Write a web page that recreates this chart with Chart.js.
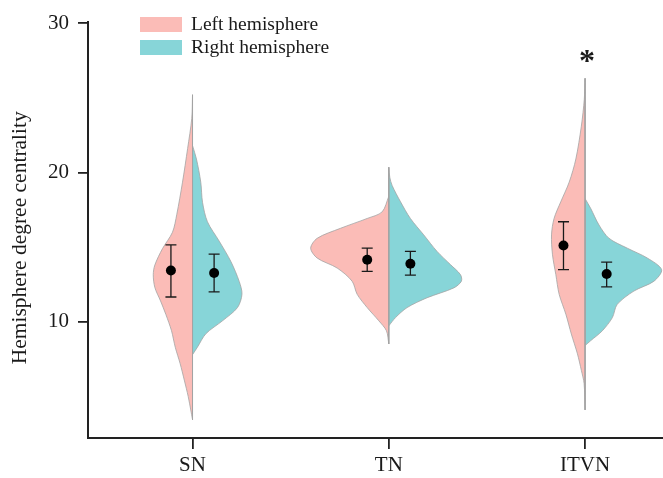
<html>
<head>
    <meta charset="UTF-8">
    <title>Hemisphere degree centrality</title>
    <style>
        html, body { margin: 0; padding: 0; background: #fff; }
    </style>
</head>
<body>
    <canvas id="violinChart" width="663" height="478"></canvas>
    <script src="https://cdn.jsdelivr.net/npm/chart.js"></script>
    <script>
        const categories = ['SN', 'TN', 'ITVN'];
        const seriesNames = ['Left hemisphere', 'Right hemisphere'];
        const yTicks = [10, 20, 30];
        const yTitle = 'Hemisphere degree centrality';

        // violin outlines: [value, half width in x-axis units]
        const snLeft = [[25.2, 0], [23.6, 0.004], [21.6, 0.025], [19.35, 0.051], [17.2, 0.08], [16.0, 0.102], [14.9, 0.153], [13.8, 0.192], [13.15, 0.2], [12.3, 0.192], [11.4, 0.163], [10.5, 0.136], [9.4, 0.107], [8.3, 0.088], [7.2, 0.063], [6.1, 0.042], [5.0, 0.022], [4.1, 0.009], [3.45, 0]];
        const snRight = [[21.8, 0], [20.9, 0.02], [19.35, 0.042], [18.0, 0.051], [16.7, 0.076], [15.4, 0.136], [14.05, 0.195], [12.7, 0.238], [11.85, 0.252], [10.95, 0.229], [10.07, 0.153], [9.2, 0.068], [8.3, 0.025], [7.8, 0]];
        const tnLeft = [[18.4, 0], [17.36, 0.034], [16.92, 0.11], [16.26, 0.246], [15.59, 0.365], [14.93, 0.398], [14.27, 0.365], [13.6, 0.263], [12.72, 0.187], [11.84, 0.161], [10.95, 0.11], [10.07, 0.051], [9.4, 0.012], [8.52, 0]];
        const tnRight = [[20.35, 0], [19.68, 0.005], [19.13, 0.017], [18.03, 0.06], [16.92, 0.11], [15.82, 0.178], [14.71, 0.246], [13.83, 0.314], [13.16, 0.365], [12.72, 0.37], [12.27, 0.331], [11.61, 0.195], [10.95, 0.093], [10.28, 0.034], [9.73, 0]];
        const itvnLeft = [[26.3, 0], [24.9, 0.004], [23.1, 0.019], [20.9, 0.047], [19.35, 0.081], [18.03, 0.124], [16.92, 0.158], [15.82, 0.171], [14.49, 0.166], [13.16, 0.149], [11.84, 0.132], [10.51, 0.098], [9.18, 0.07], [7.86, 0.039], [6.75, 0.019], [5.87, 0.005], [4.1, 0]];
        const itvnRight = [[18.25, 0], [17.58, 0.029], [16.48, 0.071], [15.59, 0.122], [14.93, 0.215], [14.27, 0.317], [13.49, 0.39], [12.72, 0.351], [12.06, 0.249], [11.17, 0.164], [10.28, 0.139], [9.4, 0.088], [8.74, 0.029], [8.41, 0]];

        // mean and error bar ends
        const leftMean = [13.43, 14.16, 15.11];
        const leftLow = [11.66, 13.38, 13.5];
        const leftHigh = [15.15, 14.93, 16.7];
        const rightMean = [13.27, 13.89, 13.2];
        const rightLow = [12.01, 13.12, 12.34];
        const rightHigh = [14.53, 14.71, 13.99];
        const significance = ['', '', '*'];

        const leftViolins = [snLeft, tnLeft, itvnLeft];
        const rightViolins = [snRight, tnRight, itvnRight];

        const LEFT_FILL = '#fbbcb7';
        const RIGHT_FILL = '#87d5d8';
        const OUTLINE = '#a3a3a3';
        const INK = '#1a1a1a';
        const dotOffset = 0.11;
        const capHalf = 0.028;

        function halfViolin(profile, center, side, color) {
            return {
                data: profile.map(p => ({ x: center + side * p[1], y: p[0] })),
                showLine: true,
                fill: 'shape',
                backgroundColor: color,
                borderColor: OUTLINE,
                borderWidth: 0.8,
                tension: 0.3,
                pointRadius: 0,
                order: 4
            };
        }

        function errorBars(low, high, side) {
            const pts = [];
            low.forEach((lo, i) => {
                const x = i + 1 + side * dotOffset;
                const hi = high[i];
                pts.push({ x: x - capHalf, y: hi }, { x: x + capHalf, y: hi }, { x: null, y: null });
                pts.push({ x: x, y: hi }, { x: x, y: lo }, { x: null, y: null });
                pts.push({ x: x - capHalf, y: lo }, { x: x + capHalf, y: lo }, { x: null, y: null });
            });
            return { data: pts, showLine: true, borderColor: INK, borderWidth: 1.3, pointRadius: 0, spanGaps: false, order: 2 };
        }

        function meanDots(means, side) {
            return {
                data: means.map((m, i) => ({ x: i + 1 + side * dotOffset, y: m })),
                pointRadius: 5,
                pointBackgroundColor: '#000',
                pointBorderWidth: 0,
                order: 1
            };
        }

        const datasets = [];
        categories.forEach((name, i) => {
            const c = i + 1;
            datasets.push(halfViolin(leftViolins[i], c, -1, LEFT_FILL));
            datasets.push(halfViolin(rightViolins[i], c, 1, RIGHT_FILL));
            const vals = leftViolins[i].concat(rightViolins[i]).map(p => p[0]);
            datasets.push({
                data: [{ x: c, y: Math.max(...vals) }, { x: c, y: Math.min(...vals) }],
                showLine: true, borderColor: OUTLINE, borderWidth: 1, pointRadius: 0, order: 3
            });
        });
        datasets.push(errorBars(leftLow, leftHigh, -1));
        datasets.push(errorBars(rightLow, rightHigh, 1));
        datasets.push(meanDots(leftMean, -1));
        datasets.push(meanDots(rightMean, 1));

        // legend, axis title and significance marks
        const extras = {
            id: 'extras',
            afterDraw(chart) {
                const ctx = chart.ctx;
                const xs = chart.scales.x, ys = chart.scales.y;
                ctx.save();
                [LEFT_FILL, RIGHT_FILL].forEach((col, k) => {
                    const top = 17 + k * 23;
                    ctx.fillStyle = col;
                    ctx.fillRect(140, top, 42, 15);
                    ctx.fillStyle = INK;
                    ctx.font = '19.5px "Liberation Serif"';
                    ctx.textBaseline = 'middle';
                    ctx.textAlign = 'left';
                    ctx.fillText(seriesNames[k], 191, top + 8);
                });

                ctx.save();
                ctx.translate(20, (ys.top + ys.bottom) / 2 + 8);
                ctx.rotate(-Math.PI / 2);
                ctx.textAlign = 'center';
                ctx.textBaseline = 'middle';
                ctx.font = '21.5px "Liberation Serif"';
                ctx.fillText(yTitle, 0, 0);
                ctx.restore();

                significance.forEach((s, i) => {
                    if (!s) return;
                    const top = Math.max(...leftViolins[i].concat(rightViolins[i]).map(p => p[0]));
                    ctx.font = 'bold 32px "Liberation Serif"';
                    ctx.textAlign = 'center';
                    ctx.textBaseline = 'alphabetic';
                    ctx.fillText(s, xs.getPixelForValue(i + 1) + 2, ys.getPixelForValue(top) - 7);
                });
                ctx.restore();
            }
        };

        const ctx = document.getElementById('violinChart').getContext('2d');
        const violinChart = new Chart(ctx, {
            type: 'scatter',
            data: { datasets: datasets },
            plugins: [extras],
            options: {
                responsive: false,
                animation: false,
                layout: { autoPadding: false, padding: { top: 18, left: 0, right: 0, bottom: 0 } },
                plugins: { legend: { display: false }, tooltip: { enabled: false } },
                scales: {
                    x: {
                        type: 'linear',
                        min: 0.4675,
                        max: 3.397,
                        afterBuildTicks: axis => { axis.ticks = categories.map((_, i) => ({ value: i + 1 })); },
                        afterFit: axis => { axis.height = 40; },
                        ticks: {
                            autoSkip: false,
                            maxRotation: 0,
                            padding: 4,
                            color: INK,
                            font: { family: 'Liberation Serif', size: 21 },
                            callback: v => categories[Math.round(v) - 1] || ''
                        },
                        grid: { drawOnChartArea: false, drawTicks: true, tickLength: 11, color: '#222', lineWidth: 1.8 },
                        border: { display: true, color: '#222', width: 2 }
                    },
                    y: {
                        min: 2.22,
                        max: 30.1,
                        afterBuildTicks: axis => { axis.ticks = yTicks.map(v => ({ value: v })); },
                        afterFit: axis => { axis.width = 88; },
                        ticks: {
                            padding: 9,
                            color: INK,
                            font: { family: 'Liberation Serif', size: 21 }
                        },
                        grid: { drawOnChartArea: false, drawTicks: true, tickLength: 10, color: '#222', lineWidth: 1.8 },
                        border: { display: true, color: '#222', width: 2 }
                    }
                }
            }
        });
    </script>
</body>
</html>
